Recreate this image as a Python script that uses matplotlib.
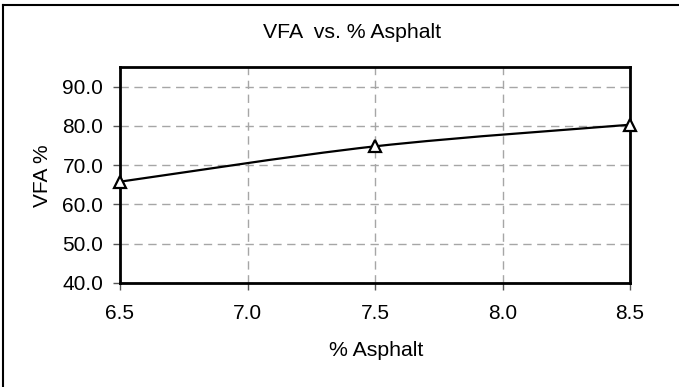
import numpy as np
import matplotlib
matplotlib.use("Agg")
import matplotlib.pyplot as plt
from matplotlib.path import Path
from matplotlib.patches import PathPatch
from matplotlib.lines import Line2D

plt.rcParams['font.family'] = ['Liberation Sans', 'DejaVu Sans']

# data
asphalt = [6.5, 7.5, 8.5]
vfa = [65.8, 74.8, 80.3]
x_ticks = [6.5, 7.0, 7.5, 8.0, 8.5]
y_ticks = [40, 50, 60, 70, 80, 90]

W, H = 679, 387
fig = plt.figure(figsize=(W / 100, H / 100), dpi=100)
ax = fig.add_axes([120 / W, 1 - 283 / H, 510 / W, 216 / H])

# smoothed line (Excel-like cubic bezier through the points)
pts = np.column_stack([asphalt, vfa])
verts = [pts[0]]
codes = [Path.MOVETO]
n = len(pts)
for i in range(n - 1):
    p0 = pts[max(i - 1, 0)]
    p1 = pts[i]
    p2 = pts[i + 1]
    p3 = pts[min(i + 2, n - 1)]
    c1 = p1 + (p2 - p0) / 6
    c2 = p2 - (p3 - p1) / 6
    verts += [c1, c2, p2]
    codes += [Path.CURVE4] * 3
ax.add_patch(PathPatch(Path(verts, codes), facecolor='none', edgecolor='black',
                       lw=1.6, zorder=3, clip_on=False))
ax.plot(asphalt, vfa, linestyle='none', marker='^', markersize=9,
        markerfacecolor='white', markeredgecolor='black', markeredgewidth=1.6,
        zorder=4, clip_on=False)

ax.set_xlim(6.5, 8.5)
ax.set_ylim(40, 95)
ax.set_xticks(x_ticks)
ax.set_yticks(y_ticks)
ax.set_xticklabels([f"{v:.1f}" for v in x_ticks])
ax.set_yticklabels([f"{v:.1f}" for v in y_ticks])
ax.tick_params(labelsize=15, length=5, width=1, color='#555555')
ax.tick_params(axis='y', pad=7)
ax.tick_params(axis='x', pad=10)

ax.grid(True, color='#a6a6a6', linestyle=(0, (6, 4)), linewidth=1)
ax.set_axisbelow(True)
for s in ax.spines.values():
    s.set_linewidth(2)
    s.set_color('black')

fig.text(352 / W, 1 - 33 / H, "VFA  vs. % Asphalt", fontsize=15.3,
         ha='center', va='center')
ax.set_xlabel("% Asphalt", fontsize=15.3, va='center')
ax.xaxis.set_label_coords((376 - 120) / 510, -(350 - 283) / 216)
ax.set_ylabel("VFA %", fontsize=15, va='center')
ax.yaxis.set_label_coords((42 - 120) / 510, (283 - 176) / 216)

# outer chart border (only top and left visible)
fig.add_artist(Line2D([2.5 / W, 2.5 / W], [0, 1 - 5 / H], color='black', lw=1.5,
                      transform=fig.transFigure))
fig.add_artist(Line2D([2.5 / W, 1], [1 - 5 / H, 1 - 5 / H], color='black', lw=1.5,
                      transform=fig.transFigure))

fig.savefig("out.png", dpi=100)
